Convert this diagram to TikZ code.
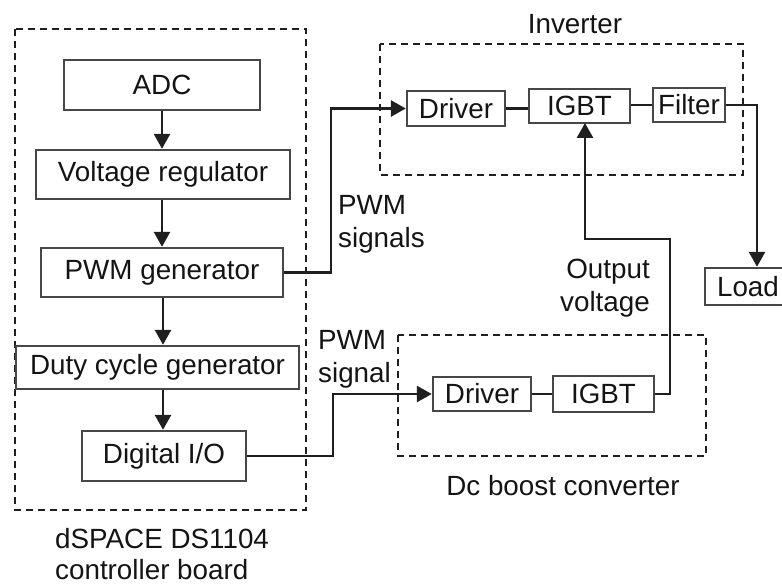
\documentclass[tikz,border=0pt]{standalone}
\usepackage{fontspec}
\setmainfont{Liberation Sans}
\usetikzlibrary{arrows.meta}
\begin{document}
\begin{tikzpicture}[x=1pt,y=-1pt,
  lbl/.style={font=\fontsize{27.8}{33}\selectfont, text=black!92, inner sep=0pt},
  blk/.style={lbl, draw=black!72, line width=2.4pt, fill=white, minimum width=#1},
  dbox/.style={draw=black!88, line width=2pt, dash pattern=on 7pt off 5pt},
  conn/.style={draw=black!88, line width=2.8pt},
  arr/.style={conn, -{Triangle[width=16pt,length=15pt]}}]
\useasboundingbox (0,0) rectangle (782,588);
% dashed groups
\draw[dbox] (15,29) rectangle (306,510);
\draw[dbox] (380,44) rectangle (743,175);
\draw[dbox] (398,335) rectangle (706,456);
% controller blocks
\node[blk=196pt, minimum height=50pt] (adc) at (162,85) {ADC};
\node[blk=254pt, minimum height=49pt] (vreg) at (163,174.5) {Voltage regulator};
\node[blk=242pt, minimum height=49pt] (pwm) at (162,272.5) {PWM generator};
\node[blk=283pt, minimum height=43pt] (duty) at (157.5,367.5) {Duty cycle generator};
\node[blk=164pt, minimum height=50pt] (dio) at (164,456) {Digital I/O};
% inverter blocks
\node[blk=98pt, minimum height=35pt] (idrv) at (456,108.5) {Driver};
\node[blk=101pt, minimum height=34pt] (iigbt) at (579.5,106) {IGBT};
\node[blk=72pt, minimum height=34pt] (filt) at (689,105) {Filter};
\node[blk=86pt, minimum height=37pt] (load) at (748,286.5) {Load};
% boost blocks
\node[blk=98pt, minimum height=34pt] (bdrv) at (482,394) {Driver};
\node[blk=101pt, minimum height=36pt] (bigbt) at (603.5,394) {IGBT};
% labels
\node[lbl] (tinv) at (575,24) {Inverter};
\node[lbl, align=left, anchor=west] (tpwms) at (338,224) {PWM\\signals};
\node[lbl, align=right, anchor=east] (tout) at (650,288) {Output\\voltage};
\node[lbl, align=left, anchor=west] (tpwm1) at (318,359) {PWM\\signal};
\node[lbl] (tdc) at (563,486) {Dc boost converter};
\node[lbl, align=left, anchor=west, font=\fontsize{27.8}{31}\selectfont] (tds) at (55,554) {dSPACE DS1104\\controller board};
% coordinates
\coordinate (p1) at (331,272.5);
\coordinate (p2) at (331,108.5);
\coordinate (q1) at (757,105);
\coordinate (r1) at (670,394);
\coordinate (r2) at (670,239);
\coordinate (r3) at (585,239);
\coordinate (r4) at (585,123);
\coordinate (s1) at (333,456);
\coordinate (s2) at (333,394);
% connectors
\draw[arr] (adc.south) -- (adc.south |- vreg.north);
\draw[arr] (vreg.south -| adc.south) -- (adc.south |- pwm.north);
\draw[arr] (pwm.south -| 163,0) -- (163,0 |- duty.north);
\draw[arr] (duty.south -| 163,0) -- (163,0 |- dio.north);
\draw[arr] (pwm.east) -- (p1) -- (p2) -- (idrv.west);
\draw[conn] (idrv.east) -- (idrv.east -| iigbt.west);
\draw[conn] (iigbt.east |- filt.west) -- (filt.west);
\draw[arr] (filt.east) -- (q1) -- (q1 |- load.north);
\draw[arr] (bigbt.east) -- (r1) -- (r2) -- (r3) -- (r4);
\draw[arr] (dio.east) -- (s1) -- (s2) -- (bdrv.west);
\draw[conn] (bdrv.east) -- (bigbt.west);
\end{tikzpicture}
\end{document}
